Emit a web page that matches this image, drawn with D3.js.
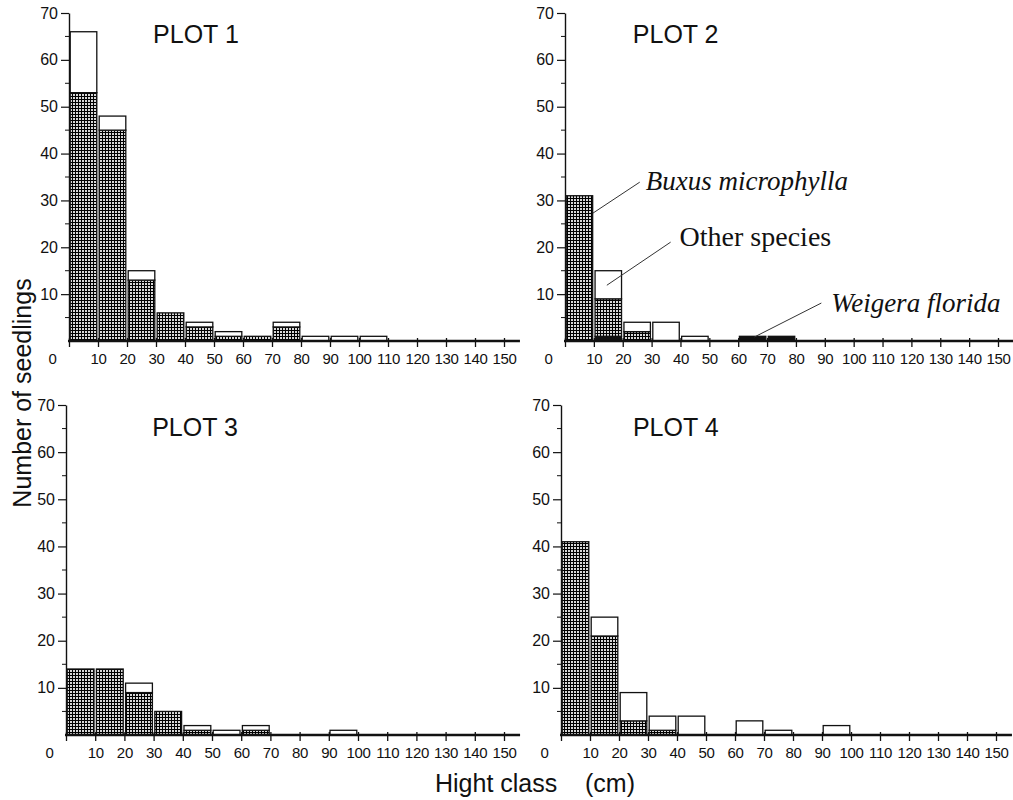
<!DOCTYPE html>
<html>
<head>
<meta charset="utf-8">
<script src="https://cdn.jsdelivr.net/npm/d3@7"></script>
<style>
  body { margin: 0; background: #fff; }
  text { font-family: "Liberation Sans", Arial, sans-serif; fill: #111; }
  .serif { font-family: "Liberation Serif", "Times New Roman", serif; }
</style>
</head>
<body>
<div id="chartArea"></div>
<script>
// height classes (lower bound, cm)
var classes = [0, 10, 20, 30, 40, 50, 60, 70, 80, 90, 100, 110, 120, 130, 140];
var xTicks = [0, 10, 20, 30, 40, 50, 60, 70, 80, 90, 100, 110, 120, 130, 140, 150];
var yTicks = [10, 20, 30, 40, 50, 60, 70];

// seedlings per class
var buxus1   = [53, 45, 13, 6, 3, 1, 1, 3, 0, 0, 0, 0, 0, 0, 0];
var other1   = [13, 3, 2, 0, 1, 1, 0, 1, 1, 1, 1, 0, 0, 0, 0];
var weigera1 = [0, 0, 0, 0, 0, 0, 0, 0, 0, 0, 0, 0, 0, 0, 0];

var buxus2   = [31, 8, 2, 0, 0, 0, 0, 0, 0, 0, 0, 0, 0, 0, 0];
var other2   = [0, 6, 2, 4, 1, 0, 0, 0, 0, 0, 0, 0, 0, 0, 0];
var weigera2 = [0, 1, 0, 0, 0, 0, 1, 1, 0, 0, 0, 0, 0, 0, 0];

var buxus3   = [14, 14, 9, 5, 1, 0, 1, 0, 0, 0, 0, 0, 0, 0, 0];
var other3   = [0, 0, 2, 0, 1, 1, 1, 0, 0, 1, 0, 0, 0, 0, 0];
var weigera3 = [0, 0, 0, 0, 0, 0, 0, 0, 0, 0, 0, 0, 0, 0, 0];

var buxus4   = [41, 21, 3, 1, 0, 0, 0, 0, 0, 0, 0, 0, 0, 0, 0];
var other4   = [0, 4, 6, 3, 4, 0, 3, 1, 0, 2, 0, 0, 0, 0, 0];
var weigera4 = [0, 0, 0, 0, 0, 0, 0, 0, 0, 0, 0, 0, 0, 0, 0];

var plots = [
    {title: 'PLOT 1', buxus: buxus1, other: other1, weigera: weigera1, x0: 69, x1: 504, y0: 341, y1: 13, tx: 29},
    {title: 'PLOT 2', buxus: buxus2, other: other2, weigera: weigera2, x0: 565, x1: 998, y0: 341, y1: 13, tx: 23.5},
    {title: 'PLOT 3', buxus: buxus3, other: other3, weigera: weigera3, x0: 66, x1: 504, y0: 735, y1: 405, tx: 29.5},
    {title: 'PLOT 4', buxus: buxus4, other: other4, weigera: weigera4, x0: 561, x1: 996, y0: 735, y1: 405, tx: 24.8}
];

var keys = ['weigera', 'buxus', 'other'];

var w = 1013, h = 800;

var svg = d3.select('#chartArea').append('svg')
    .attr('width', w)
    .attr('height', h);

// crosshatch used for Buxus
var pat = svg.append('defs').append('pattern')
    .attr('id', 'hatch')
    .attr('patternUnits', 'userSpaceOnUse')
    .attr('width', 3)
    .attr('height', 3);
pat.append('rect').attr('width', 3).attr('height', 3).attr('fill', '#d8d8d8');
pat.append('rect').attr('width', 3).attr('height', 1).attr('fill', '#000');
pat.append('rect').attr('width', 1).attr('height', 3).attr('fill', '#000');

var fills = {weigera: '#111', buxus: 'url(#hatch)', other: '#fff'};

plots.forEach(function (p, pi) {
    var xScale = d3.scaleLinear().domain([0, 150]).range([p.x0, p.x1]);
    var yScale = d3.scaleLinear().domain([0, 70]).range([p.y0, p.y1]);

    var g = svg.append('g').attr('class', 'plot');

    var rows = classes.map(function (c, i) {
        return {lo: c, weigera: p.weigera[i], buxus: p.buxus[i], other: p.other[i]};
    });
    var series = d3.stack().keys(keys)(rows);

    series.forEach(function (s) {
        g.selectAll('rect.' + s.key)
            .data(s.filter(function (d) { return d[1] - d[0] > 0; }))
            .enter()
            .append('rect')
            .attr('class', s.key)
            .attr('x', function (d) { return xScale(d.data.lo) + 1.2; })
            .attr('width', function (d) { return xScale(d.data.lo + 10) - xScale(d.data.lo) - 2.4; })
            .attr('y', function (d) { return yScale(d[1]); })
            .attr('height', function (d) { return yScale(d[0]) - yScale(d[1]); })
            .attr('fill', fills[s.key])
            .attr('stroke', '#111')
            .attr('stroke-width', 1.3);
    });

    // y axis
    var yAxis = d3.axisLeft(yScale)
        .tickValues(yTicks)
        .tickSize(8)
        .tickPadding(3)
        .tickSizeOuter(0);
    var ya = g.append('g')
        .attr('transform', 'translate(' + p.x0 + ',0)')
        .call(yAxis);
    ya.select('.domain').attr('stroke', '#111').attr('stroke-width', 1.4);
    ya.selectAll('.tick line').attr('stroke', '#111').attr('stroke-width', 1.2);
    ya.selectAll('.tick text')
        .style('font-family', '"Liberation Sans", Arial, sans-serif')
        .style('font-size', '16px')
        .attr('fill', '#111');

    // minor y ticks
    g.selectAll('line.minor')
        .data([5, 15, 25, 35, 45, 55, 65])
        .enter()
        .append('line')
        .attr('class', 'minor')
        .attr('x1', p.x0 - 4)
        .attr('x2', p.x0)
        .attr('y1', function (d) { return yScale(d); })
        .attr('y2', function (d) { return yScale(d); })
        .attr('stroke', '#111')
        .attr('stroke-width', 1);

    // x axis
    var xAxis = d3.axisBottom(xScale)
        .tickValues(xTicks)
        .tickSize(6)
        .tickPadding(6)
        .tickSizeOuter(0);
    var xa = g.append('g')
        .attr('transform', 'translate(0,' + p.y0 + ')')
        .call(xAxis);
    xa.select('.domain').remove();
    xa.selectAll('.tick line').attr('stroke', '#111').attr('stroke-width', 1.3).attr('y1', -3);
    xa.selectAll('.tick text')
        .style('font-family', '"Liberation Sans", Arial, sans-serif')
        .style('font-size', '15px')
        .style('letter-spacing', '-0.3px')
        .attr('fill', '#111')
        .attr('dx', function (d) { return d === 0 ? '-17px' : 0; });
    g.append('line')
        .attr('x1', xScale(0) - 1)
        .attr('x2', xScale(155.5))
        .attr('y1', p.y0)
        .attr('y2', p.y0)
        .attr('stroke', '#111')
        .attr('stroke-width', 2.4);

    // panel title
    g.append('text')
        .attr('x', xScale(p.tx))
        .attr('y', yScale(63.5))
        .style('font-size', '25px')
        .text(p.title);

    // species labels in plot 2
    if (pi === 1) {
        var notes = [
            {text: 'Buxus microphylla', italic: true, size: 27, tx: 28, ty: 32.2, lx1: 25.9, ly1: 33.9, lx2: 9.7, ly2: 27.3},
            {text: 'Other species', italic: false, size: 28, tx: 39.7, ty: 20.3, lx1: 36.6, ly1: 21.1, lx2: 14.5, ly2: 11.9},
            {text: 'Weigera florida', italic: true, size: 27, tx: 92.2, ty: 6.2, lx1: 88.8, ly1: 8.1, lx2: 65.6, ly2: 0.85}
        ];
        g.selectAll('line.leader')
            .data(notes)
            .enter()
            .append('line')
            .attr('class', 'leader')
            .attr('x1', function (d) { return xScale(d.lx1); })
            .attr('y1', function (d) { return yScale(d.ly1); })
            .attr('x2', function (d) { return xScale(d.lx2); })
            .attr('y2', function (d) { return yScale(d.ly2); })
            .attr('stroke', '#333')
            .attr('stroke-width', 1);
        g.selectAll('text.note')
            .data(notes)
            .enter()
            .append('text')
            .attr('class', 'note serif')
            .attr('x', function (d) { return xScale(d.tx); })
            .attr('y', function (d) { return yScale(d.ty); })
            .style('font-size', function (d) { return d.size + 'px'; })
            .style('font-style', function (d) { return d.italic ? 'italic' : 'normal'; })
            .text(function (d) { return d.text; });
    }
});

// axis titles
svg.append('text')
    .attr('transform', 'translate(31,393) rotate(-90)')
    .attr('text-anchor', 'middle')
    .style('font-size', '25px')
    .text('Number of seedlings');

svg.append('text')
    .attr('x', 435)
    .attr('y', 792)
    .style('font-size', '25px')
    .attr('xml:space', 'preserve')
    .text('Hight class    (cm)');
</script>
</body>
</html>
